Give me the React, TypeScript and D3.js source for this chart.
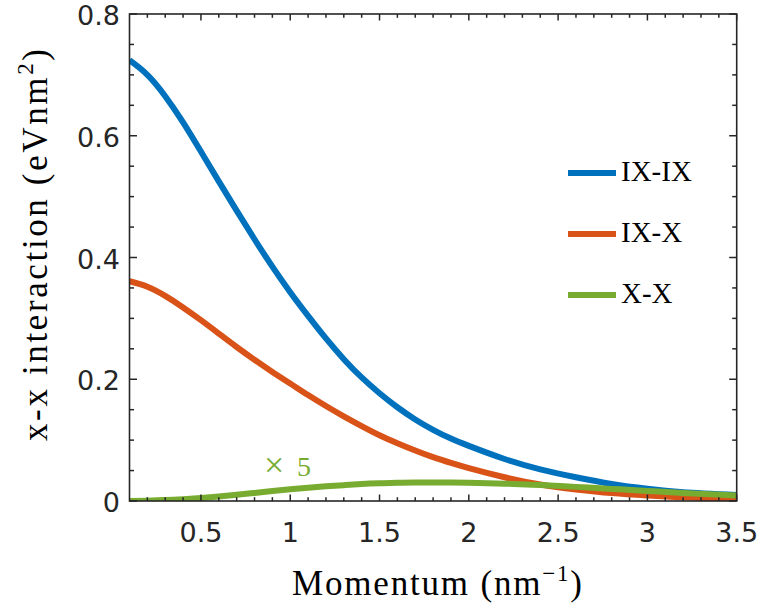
import React from "react";
import * as d3 from "d3";

// momentum grid (nm^-1)
const momentum = [0.1, 0.2, 0.3, 0.4, 0.5, 0.6, 0.7, 0.8, 0.9, 1.0, 1.1, 1.2, 1.3, 1.4, 1.5, 1.6, 1.7, 1.8, 1.9, 2.0, 2.2, 2.4, 2.6, 2.8, 3.0, 3.2, 3.5];
// IX-IX interaction
const ixix = [0.724, 0.7, 0.665, 0.622, 0.574, 0.525, 0.477, 0.43, 0.385, 0.343, 0.304, 0.267, 0.233, 0.203, 0.177, 0.154, 0.134, 0.117, 0.1025, 0.0905, 0.069, 0.052, 0.039, 0.028, 0.02, 0.0145, 0.01];
// IX-X interaction
const ixx = [0.361, 0.352, 0.337, 0.318, 0.297, 0.275, 0.253, 0.232, 0.212, 0.193, 0.174, 0.156, 0.139, 0.123, 0.108, 0.095, 0.083, 0.072, 0.0625, 0.054, 0.039, 0.027, 0.019, 0.013, 0.009, 0.006, 0.003];
// X-X interaction (shown x5)
const xx = [0.0, 0.0006, 0.0015, 0.003, 0.005, 0.0075, 0.0103, 0.0133, 0.0163, 0.0192, 0.0218, 0.0241, 0.026, 0.0278, 0.029, 0.0298, 0.0303, 0.0305, 0.0304, 0.03, 0.0285, 0.0262, 0.0232, 0.0199, 0.0165, 0.0133, 0.009];

const seriesNames = ["IX-IX", "IX-X", "X-X"];
const seriesColors = ["#0072BD", "#D95319", "#77AC30"];
const xTicks = [0.5, 1, 1.5, 2, 2.5, 3, 3.5];
const yTicks = [0, 0.2, 0.4, 0.6, 0.8];

const App = () => {
  const left = 129.5, right = 736.7, top = 14, bottom = 501;
  const x = d3.scaleLinear().domain([0.1, 3.5]).range([left, right]);
  const y = d3.scaleLinear().domain([0, 0.8]).range([bottom, top]);

  const line = d3
    .line<number>()
    .x((d, i) => x(momentum[i]))
    .y((d) => y(d))
    .curve(d3.curveNatural);

  const allSeries = [ixix, ixx, xx];

  const xMinor = d3.range(2, 35).map((v) => v / 10).filter((v) => Math.abs(v * 2 - Math.round(v * 2)) > 1e-6);
  const yMinor = d3.range(1, 16).map((v) => v * 0.05).filter((v, i) => i % 4 !== 3);

  const axisColor = "#262626";
  const sans = "'DejaVu Sans', sans-serif";
  const serifStyle = { fontFamily: "'Liberation Serif', 'Times New Roman', Times, serif" };

  return (
    <svg width={760} height={607} style={{ position: "absolute", left: 0, top: 0, display: "block" }}>
      <rect x={0} y={0} width={760} height={607} fill="white" />
      <defs>
        <clipPath id="clip">
          <rect x={left} y={top - 5} width={right - left} height={bottom - top + 5} />
        </clipPath>
      </defs>

      {/* curves */}
      <g clipPath="url(#clip)">
        {allSeries.map((s, i) => (
          <path key={i} d={line(s) || ""} fill="none" stroke={seriesColors[i]} strokeWidth={6} />
        ))}
      </g>

      {/* ticks */}
      <g stroke={axisColor} strokeWidth={1.5}>
        {xTicks.map((t) => (
          <g key={"xt" + t}>
            <line x1={x(t)} x2={x(t)} y1={bottom} y2={bottom - 6.5} />
            <line x1={x(t)} x2={x(t)} y1={top} y2={top + 6.5} />
          </g>
        ))}
        {xMinor.map((t) => (
          <g key={"xm" + t}>
            <line x1={x(t)} x2={x(t)} y1={bottom} y2={bottom - 3.8} />
            <line x1={x(t)} x2={x(t)} y1={top} y2={top + 3.8} />
          </g>
        ))}
        {yTicks.map((t) => (
          <g key={"yt" + t}>
            <line x1={left} x2={left + 7.5} y1={y(t)} y2={y(t)} />
            <line x1={right} x2={right - 7.5} y1={y(t)} y2={y(t)} />
          </g>
        ))}
        {yMinor.map((t) => (
          <g key={"ym" + t}>
            <line x1={left} x2={left + 4.5} y1={y(t)} y2={y(t)} />
            <line x1={right} x2={right - 4.5} y1={y(t)} y2={y(t)} />
          </g>
        ))}
      </g>
      <rect x={left} y={top} width={right - left} height={bottom - top} fill="none" stroke={axisColor} strokeWidth={1.6} />

      {/* tick labels */}
      <g fontFamily={sans} fontSize={27} fill={axisColor}>
        {xTicks.map((t) => (
          <text key={"xl" + t} x={x(t)} y={541.5} textAnchor="middle">{t}</text>
        ))}
        {yTicks.map((t) => (
          <text key={"yl" + t} x={120} y={y(t) + 11} textAnchor="end">{t}</text>
        ))}
      </g>

      {/* axis titles */}
      <text x={437} y={595} style={serifStyle} fontSize={35} textAnchor="middle" textLength={290} lengthAdjust="spacing">
        Momentum (nm<tspan style={serifStyle} dy={-14} fontSize={23}>−1</tspan><tspan style={serifStyle} dy={14}>)</tspan>
      </text>
      <text transform="translate(47,245) rotate(-90)" style={serifStyle} fontSize={35} textAnchor="middle" textLength={392} lengthAdjust="spacing">
        x-x interaction (eVnm<tspan style={serifStyle} dy={-14} fontSize={23}>2</tspan><tspan style={serifStyle} dy={14}>)</tspan>
      </text>

      {/* legend */}
      {seriesNames.map((n, i) => (
        <g key={n}>
          <line x1={568} x2={616} y1={173 + i * 61} y2={173 + i * 61} stroke={seriesColors[i]} strokeWidth={6} />
          <text x={621} y={180.5 + i * 61} style={serifStyle} fontSize={29} fill="black">{n}</text>
        </g>
      ))}

      {/* x5 annotation */}
      <text style={serifStyle} fill={seriesColors[2]}>
        <tspan x={264} y={477} fontSize={36}>×</tspan>
        <tspan x={297} y={476} fontSize={28}>5</tspan>
      </text>
    </svg>
  );
};

export default App;
